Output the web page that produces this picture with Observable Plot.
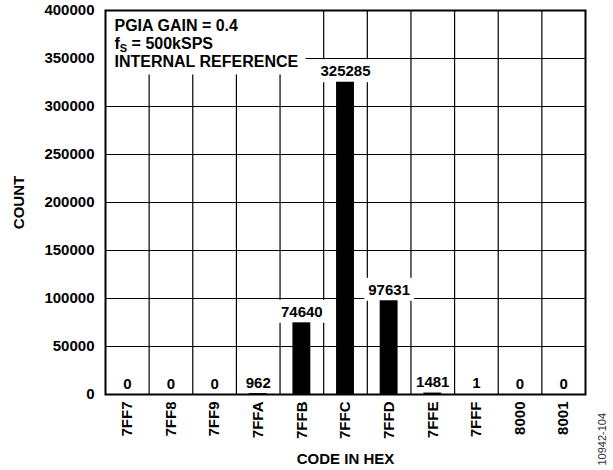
<!DOCTYPE html>
<html>
<head>
<meta charset="utf-8">
<script src="https://cdn.jsdelivr.net/npm/d3@7"></script>
<script src="https://cdn.jsdelivr.net/npm/@observablehq/plot@0.6"></script>
<style>
  html, body { margin: 0; padding: 0; background: white; }
</style>
</head>
<body>
<div id="chart"></div>
<script>
const codes = ["7FF7", "7FF8", "7FF9", "7FFA", "7FFB", "7FFC", "7FFD", "7FFE", "7FFF", "8000", "8001"];
const counts = [0, 0, 0, 962, 74640, 325285, 97631, 1481, 1, 0, 0];
const yTicks = [0, 50000, 100000, 150000, 200000, 250000, 300000, 350000, 400000];
const annotationLines = ["PGIA GAIN = 0.4", "fS = 500kSPS", "INTERNAL REFERENCE"];
const figureId = "10942-104";

const data = codes.map((code, i) => ({code, i, count: counts[i]}));
const barW = 0.41;
const FONT = "'Liberation Sans', Arial, Helvetica, sans-serif";

const chart = Plot.plot({
  width: 613,
  height: 470,
  marginLeft: 105,
  marginRight: 28,
  marginTop: 10,
  marginBottom: 76,
  style: {fontFamily: FONT, fontSize: "15px", fontWeight: "bold", color: "black", background: "white"},
  x: {domain: [0, codes.length]},
  y: {domain: [0, 400000]},
  marks: [
    Plot.ruleX(d3.range(1, codes.length), {stroke: "black", strokeWidth: 1.2}),
    Plot.ruleY(yTicks.slice(1, -1), {stroke: "black", strokeWidth: 1.2}),
    Plot.text([annotationLines.join("\n")], {
      frameAnchor: "top-left", dx: 9, dy: 8, lineAnchor: "top", textAnchor: "start",
      lineHeight: 1.13, fontSize: 16, fill: "black", ariaDescription: "annotation"
    }),
    Plot.rectY(data, {
      x1: d => d.i + 0.5 - barW / 2, x2: d => d.i + 0.5 + barW / 2,
      y1: 0, y2: "count", fill: "black", ariaDescription: "bars"
    }),
    Plot.text(data, {
      x: d => d.i + 0.5, y: "count", text: d => String(d.count),
      lineAnchor: "bottom", dy: -6, fill: "black", ariaDescription: "value-labels"
    }),
    Plot.axisY({
      ticks: yTicks, tickFormat: d => String(d), tickSize: 0, tickPadding: 11,
      label: "COUNT", labelAnchor: "center", labelOffset: 92, labelArrow: "none"
    }),
    Plot.axisX({
      ticks: codes.map((c, i) => i + 0.5), tickFormat: d => codes[Math.floor(d)],
      tickRotate: -90, tickSize: 0, tickPadding: 7,
      label: "CODE IN HEX", labelAnchor: "center", labelOffset: 69, labelArrow: "none"
    }),
    Plot.text([figureId], {
      frameAnchor: "bottom-right", dx: 20, dy: 71, rotate: -90, textAnchor: "start",
      fontSize: 11, fontWeight: "normal", fill: "#333"
    }),
    Plot.frame({stroke: "black", strokeWidth: 2})
  ]
});

document.getElementById("chart").append(chart);

const svgNS = "http://www.w3.org/2000/svg";
const svg = chart.tagName.toLowerCase() === "svg" ? chart : chart.querySelector("svg");
const findGroup = name => svg.querySelector(`g[aria-description="${name}"]`);

// subscript S in the annotation, plus its white box
const annG = findGroup("annotation");
if (annG) {
  annG.querySelectorAll("tspan").forEach(ts => {
    if (ts.textContent === annotationLines[1]) {
      ts.textContent = "f";
      const sub = document.createElementNS(svgNS, "tspan");
      sub.setAttribute("dy", "3");
      sub.setAttribute("font-size", "11");
      sub.textContent = "S";
      const rest = document.createElementNS(svgNS, "tspan");
      rest.setAttribute("dy", "-3");
      rest.setAttribute("font-size", "16");
      rest.textContent = annotationLines[1].slice(2);
      ts.append(sub, rest);
    }
  });
  const xr = chart.scale("x").range, yr = chart.scale("y").range;
  const left = Math.min(...xr), top = Math.min(...yr);
  const t = annG.querySelector("text");
  const b = t.getBBox(), m = t.getCTM();
  const r = document.createElementNS(svgNS, "rect");
  r.setAttribute("x", left);
  r.setAttribute("y", top);
  r.setAttribute("width", b.x + m.e + b.width + 7 - left);
  r.setAttribute("height", b.y + m.f + b.height + 4 - top);
  r.setAttribute("fill", "white");
  svg.insertBefore(r, annG);
}

// white backgrounds behind value labels
const labG = findGroup("value-labels");
const barsG = findGroup("bars");
if (labG && barsG) {
  const bg = document.createElementNS(svgNS, "g");
  labG.querySelectorAll("text").forEach(t => {
    const b = t.getBBox(), m = t.getCTM();
    const r = document.createElementNS(svgNS, "rect");
    r.setAttribute("x", b.x + m.e - 4);
    r.setAttribute("y", b.y + m.f - 3);
    r.setAttribute("width", b.width + 8);
    r.setAttribute("height", b.height + 6);
    r.setAttribute("fill", "white");
    bg.append(r);
  });
  svg.insertBefore(bg, barsG);
}
</script>
</body>
</html>
